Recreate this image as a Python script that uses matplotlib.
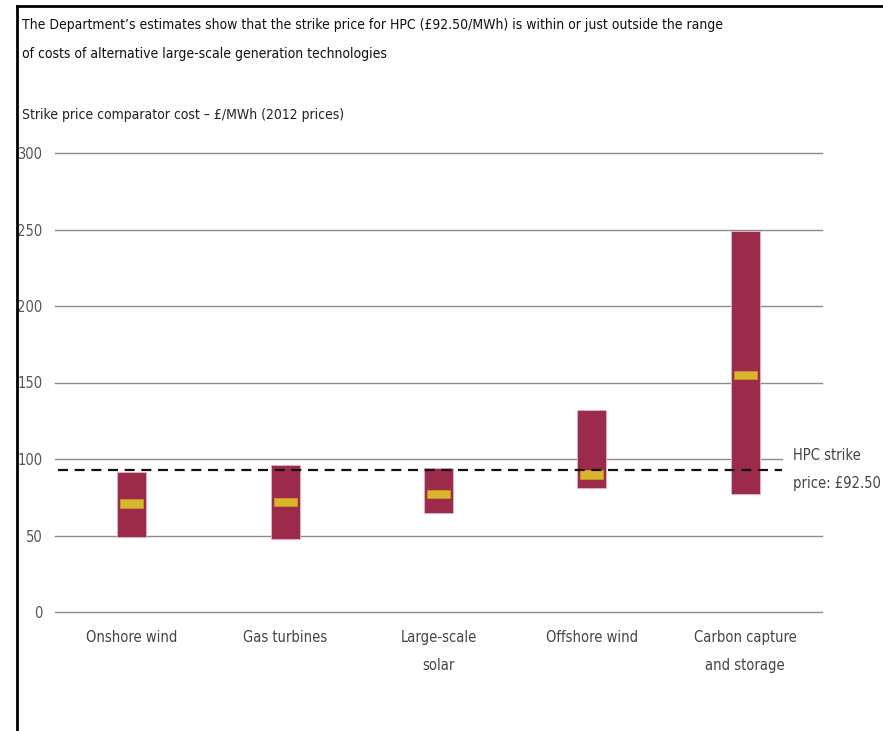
import matplotlib
matplotlib.use("Agg")
import matplotlib.pyplot as plt
from matplotlib.lines import Line2D

categories = ["Onshore wind", "Gas turbines", "Large-scale\nsolar", "Offshore wind", "Carbon capture\nand storage"]
low = [49, 47.5, 65, 81, 77]
high = [91.5, 96, 94, 132, 249]
central = [71, 72, 77, 90, 155]
strike_price = 92.5
yticks = [0, 50, 100, 150, 200, 250, 300]

plt.rcParams["font.family"] = ["DejaVu Sans"]
plt.rcParams["font.stretch"] = "condensed"

W, H = 883, 731
fig = plt.figure(figsize=(W / 100, H / 100), dpi=100)
ax = fig.add_axes([55 / W, 1 - 612 / H, (822 - 55) / W, (612 - 153) / H])

bar_color = "#9c2a4a"
med_color = "#dab52c"
x = list(range(len(categories)))
bw = 0.19
ax.bar(x, [h - l for h, l in zip(high, low)], bottom=low, width=bw,
       color=bar_color, edgecolor="#e8b4c4", linewidth=0.6, zorder=3)
mw = 0.15
mh = 5.5
ax.bar(x, [mh] * len(x), bottom=[c - mh / 2 for c in central], width=mw,
       color=med_color, edgecolor="#c9a020", linewidth=0.5, zorder=4)

ax.set_xlim(-0.5, 4.5)
ax.set_ylim(0, 300)
for yv in yticks:
    xmax = 4.24 if yv == 100 else 4.5
    ax.plot([-0.5, xmax], [yv, yv], color="#8a8a8a", lw=1.0, zorder=1, clip_on=False)
ax.plot([-0.48, 4.24], [strike_price, strike_price], color="#111111", lw=1.6,
        ls=(0, (4.5, 3)), zorder=5)

ax.set_yticks(yticks)
ax.set_yticklabels([str(v) for v in yticks], fontsize=10.5, color="#555555")
ax.set_xticks(x)
ax.set_xticklabels(categories, fontsize=10.5, color="#444444", linespacing=2.1, va="top")
ax.tick_params(axis="y", length=0, pad=9)
ax.tick_params(axis="x", length=0, pad=13)
for s in ax.spines.values():
    s.set_visible(False)

ax.text(4.31, strike_price + 0.5, "HPC strike\nprice: £92.50", fontsize=10.5, color="#444444",
        va="center", ha="left", linespacing=2.05)

fig.text(22 / W, 1 - 25 / H, "The Department’s estimates show that the strike price for HPC (£92.50/MWh) is within or just outside the range",
         fontsize=10, color="#111111", va="center", ha="left")
fig.text(22 / W, 1 - 54 / H, "of costs of alternative large-scale generation technologies",
         fontsize=10, color="#111111", va="center", ha="left")
fig.text(22 / W, 1 - 115 / H, "Strike price comparator cost – £/MWh (2012 prices)",
         fontsize=10, color="#222222", va="center", ha="left")

fig.add_artist(Line2D([17 / W, 17 / W], [0, 1 - 6 / H], color="black", lw=2, transform=fig.transFigure))
fig.add_artist(Line2D([17 / W, 1], [1 - 6 / H, 1 - 6 / H], color="black", lw=2, transform=fig.transFigure))

fig.savefig("out.png", dpi=100)
